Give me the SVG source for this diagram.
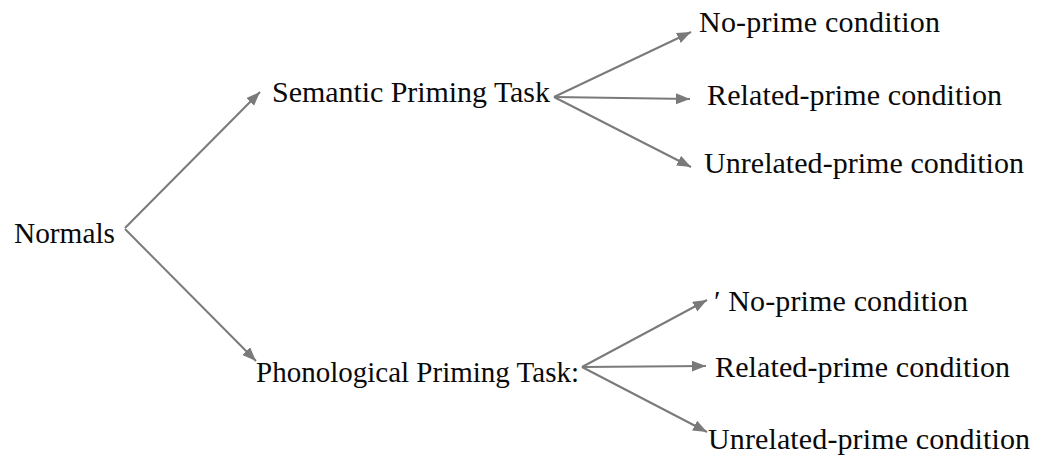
<svg xmlns="http://www.w3.org/2000/svg" width="1044" height="463" viewBox="0 0 1044 463">
<style>
text { font-family: "Liberation Serif", "Times New Roman", serif; fill: #0a0a0a; font-size: 30px; }
.edge { stroke: #7a7a7a; stroke-width: 2; fill: none; marker-end: url(#ah); }
</style>
<defs>
<marker id="ah" markerUnits="userSpaceOnUse" markerWidth="16" markerHeight="12" refX="14" refY="5.5" orient="auto">
<path d="M0,0 L14,5.5 L0,11 Z" fill="#7a7a7a"/>
</marker>
</defs>
<rect width="1044" height="463" fill="#ffffff"/>
<g id="connectors">
<line class="edge" x1="125" y1="228" x2="260" y2="92"/>
<line class="edge" x1="125" y1="229" x2="256" y2="361"/>
<line class="edge" x1="554" y1="97" x2="691" y2="32"/>
<line class="edge" x1="554" y1="97" x2="690" y2="99"/>
<line class="edge" x1="554" y1="97" x2="691" y2="167"/>
<line class="edge" x1="582" y1="367" x2="707" y2="300"/>
<line class="edge" x1="582" y1="367" x2="706" y2="366"/>
<line class="edge" x1="582" y1="367" x2="707" y2="432"/>
</g>
<g id="normals"><text x="14" y="243" style="font-size:29px" textLength="101" lengthAdjust="spacingAndGlyphs">Normals</text></g>
<g id="semantic"><text x="272" y="102" textLength="278" lengthAdjust="spacing">Semantic Priming Task</text></g>
<g id="phonological"><text x="256" y="382" style="font-size:29px" textLength="323" lengthAdjust="spacing">Phonological Priming Task:</text></g>
<g id="sem-noprime"><text x="699" y="32" textLength="241" lengthAdjust="spacing">No-prime condition</text></g>
<g id="sem-related"><text x="707" y="105" textLength="295" lengthAdjust="spacing">Related-prime condition</text></g>
<g id="sem-unrelated"><text x="704" y="173" textLength="320" lengthAdjust="spacing">Unrelated-prime condition</text></g>
<g id="pho-noprime"><text x="714" y="311" textLength="254" lengthAdjust="spacing">′ No-prime condition</text></g>
<g id="pho-related"><text x="715" y="377" textLength="295" lengthAdjust="spacing">Related-prime condition</text></g>
<g id="pho-unrelated"><text x="708" y="449" textLength="322" lengthAdjust="spacing">Unrelated-prime condition</text></g>
</svg>
